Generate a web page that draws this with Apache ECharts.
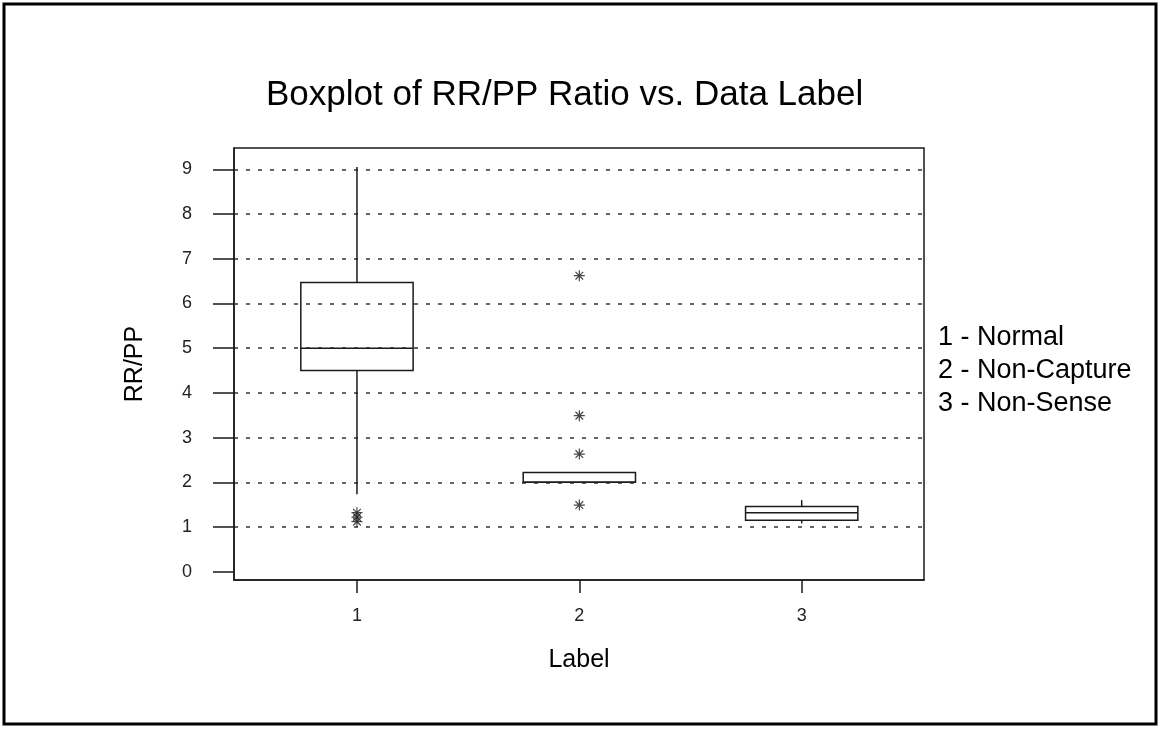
<!DOCTYPE html>
<html>
<head>
<meta charset="utf-8">
<script src="https://cdn.jsdelivr.net/npm/echarts@6/dist/echarts.min.js"></script>
<style>
  html, body { margin: 0; padding: 0; background: #fff; }
  #chart { width: 1160px; height: 729px; }
</style>
</head>
<body>
<div id="chart"></div>
<script>
// ---- data ----
const categories = ['1', '2', '3'];
const xPositions = [1, 2, 3];
const boxMin    = [1.73, 2.00, 1.08];
const boxQ1     = [4.50, 2.00, 1.15];
const boxMedian = [5.00, 2.00, 1.32];
const boxQ3     = [6.47, 2.22, 1.46];
const boxMax    = [9.05, 2.22, 1.60];
const outlierX  = [1, 1, 1, 2, 2, 2, 2];
const outlierY  = [1.12, 1.22, 1.32, 6.62, 3.49, 2.63, 1.49];
const yTicks    = [0, 1, 2, 3, 4, 5, 6, 7, 8, 9];
const legendLines = ['1 - Normal', '2 - Non-Capture', '3 - Non-Sense'];
const titleText = 'Boxplot of RR/PP Ratio vs. Data Label';
const yName = 'RR/PP';
const xName = 'Label';

// ---- build ----
const boxData = xPositions.map((x, i) => [x, boxMin[i], boxQ1[i], boxMedian[i], boxQ3[i], boxMax[i]]);
const outlierData = outlierX.map((x, i) => [x, outlierY[i]]);

const INK = '#1a1a1a';
const FONT = '"Liberation Sans", Arial, sans-serif';
const BOX_W = 0.505;

const chart = echarts.init(document.getElementById('chart'), null, { renderer: 'canvas' });

chart.setOption({
  animation: false,
  backgroundColor: '#fff',
  title: {
    text: titleText,
    left: 266,
    top: 78,
    padding: 0,
    textStyle: { fontFamily: FONT, fontSize: 35, fontWeight: 'normal', color: '#000' }
  },
  graphic: [
    {
      type: 'rect',
      shape: { x: 4, y: 4, width: 1152, height: 720 },
      style: { fill: 'none', stroke: '#000', lineWidth: 3 },
      z: 100
    },
    ...legendLines.map((t, i) => ({
      type: 'text',
      left: 938,
      top: 324 + i * 33,
      style: { text: t, font: '27px ' + FONT, fill: '#000' }
    }))
  ],
  grid: {
    left: 234, right: 236, top: 148, bottom: 149,
    show: true, borderColor: INK, borderWidth: 1.5, backgroundColor: 'transparent'
  },
  xAxis: {
    type: 'value',
    min: 0.447, max: 3.55,
    name: xName,
    nameLocation: 'middle',
    nameGap: 68,
    nameTextStyle: { fontFamily: FONT, fontSize: 25, color: '#000' },
    axisLine: { show: true, onZero: false, lineStyle: { color: INK, width: 1.5 } },
    axisTick: { show: true, customValues: xPositions, length: 13, lineStyle: { color: INK, width: 1.5 } },
    axisLabel: {
      customValues: xPositions,
      formatter: v => categories[xPositions.indexOf(v)] ?? '',
      margin: 27, fontFamily: FONT, fontSize: 18, color: '#222'
    },
    splitLine: { show: false }
  },
  yAxis: {
    type: 'value',
    min: -0.186, max: 9.476,
    splitNumber: 10,
    name: yName,
    nameLocation: 'middle',
    nameGap: 86,
    nameTextStyle: { fontFamily: FONT, fontSize: 25, color: '#000' },
    axisLine: { show: true, onZero: false, lineStyle: { color: INK, width: 1.5 } },
    axisTick: { show: true, customValues: yTicks, length: 21, lineStyle: { color: INK, width: 1.5 } },
    axisLabel: {
      customValues: yTicks,
      margin: 42, fontFamily: FONT, fontSize: 18, color: '#222'
    },
    splitLine: {
      show: true, showMinLine: false, showMaxLine: true,
      lineStyle: { color: '#333', width: 1.5, type: [4, 8] }
    }
  },
  series: [
    {
      type: 'custom',
      name: 'RR/PP',
      data: boxData,
      encode: { x: 0, y: [1, 2, 3, 4, 5] },
      renderItem: function (params, api) {
        const x = api.value(0);
        const lo = api.coord([x, api.value(1)]);
        const q1 = api.coord([x, api.value(2)]);
        const med = api.coord([x, api.value(3)]);
        const q3 = api.coord([x, api.value(4)]);
        const hi = api.coord([x, api.value(5)]);
        const half = api.size([BOX_W, 0])[0] / 2;
        const st = { stroke: INK, lineWidth: 1.5, fill: null };
        return {
          type: 'group',
          children: [
            { type: 'line', shape: { x1: lo[0], y1: lo[1], x2: q1[0], y2: q1[1] }, style: st },
            { type: 'line', shape: { x1: q3[0], y1: q3[1], x2: hi[0], y2: hi[1] }, style: st },
            { type: 'rect', shape: { x: q3[0] - half, y: q3[1], width: 2 * half, height: q1[1] - q3[1] }, style: st },
            { type: 'line', shape: { x1: med[0] - half, y1: med[1], x2: med[0] + half, y2: med[1] }, style: st }
          ]
        };
      },
      z: 5
    },
    {
      type: 'scatter',
      name: 'Outliers',
      data: outlierData,
      symbol: 'path://M5,0L5,10M0,5L10,5M1.5,1.5L8.5,8.5M1.5,8.5L8.5,1.5',
      symbolSize: 11,
      itemStyle: { color: 'rgba(0,0,0,0)', borderColor: INK, borderWidth: 1.2 },
      z: 6
    }
  ]
});
</script>
</body>
</html>
